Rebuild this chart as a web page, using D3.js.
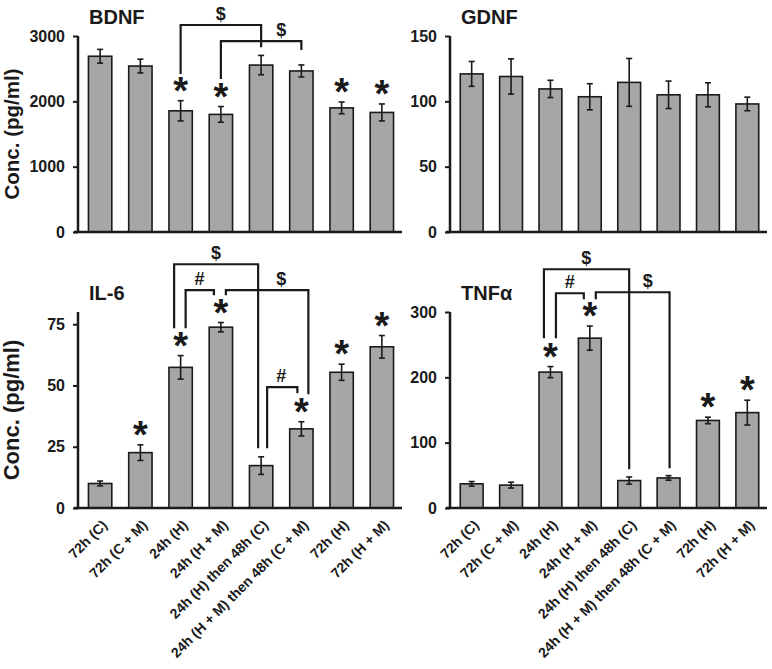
<!DOCTYPE html>
<html lang="en">
<head>
<meta charset="utf-8">
<title>Conc. (pg/ml)</title>
<style>
  body { margin: 0; background: #fff; }
  svg text { font-family: "Liberation Sans", Arial, sans-serif; font-weight: bold; fill: #1a1a1a; }
</style>
</head>
<body>
<div id="chart"></div>
<script src="https://d3js.org/d3.v7.min.js"></script>
<script>
// group labels (same for every panel)
var groups = ["72h (C)", "72h (C + M)", "24h (H)", "24h (H + M)",
  "24h (H) then 48h (C)", "24h (H + M) then 48h (C + M)", "72h (H)", "72h (H + M)"];

// means, error bars and * markers
var bdnfMean = [2690, 2540, 1855, 1800, 2555, 2465, 1900, 1830];
var bdnfErr  = [105, 105, 155, 120, 148, 92, 90, 130];
var bdnfStar = [0, 0, 1, 1, 0, 0, 1, 1];

var gdnfMean = [121, 119, 109.5, 103.5, 114.5, 105, 105, 98];
var gdnfErr  = [9.5, 13.5, 6.6, 10, 18.3, 10.5, 9.2, 5.2];
var gdnfStar = [0, 0, 0, 0, 0, 0, 0, 0];

var il6Mean = [10, 22.6, 57.4, 73.8, 17.3, 32.3, 55.4, 65.8];
var il6Err  = [1, 3.2, 4.8, 1.9, 3.6, 2.9, 3.3, 4.6];
var il6Star = [0, 1, 1, 1, 0, 1, 1, 1];

var tnfMean = [37, 35, 208, 260, 42, 46, 134, 146];
var tnfErr  = [3.5, 4.5, 8.5, 18.5, 5.5, 3.5, 5, 19];
var tnfStar = [0, 0, 1, 1, 0, 0, 1, 1];

// significance brackets: bar indexes, heights in data units
var bdnfBrackets = [
  {from: 2, to: 4, top: 3168, lo: 2419, ro: 2826, label: "$", at: 3.0},
  {from: 3, to: 5, top: 2923, lo: 2343, ro: 2787, label: "$", at: 4.5}
];
var il6Brackets = [
  {from: 2, to: 4, dl: -6.5, dr: -3, top: 99.5, lo: 73.4, ro: 24.4, label: "$", at: 2.88},
  {from: 2, to: 3, dl: 5, dr: -7, top: 88.9, lo: 73.4, ro: 86.8, label: "#", at: 2.47},
  {from: 3, to: 5, dl: 5, dr: 7, top: 88.9, lo: 86.8, ro: 46.4, label: "$", at: 4.5},
  {from: 4, to: 5, dl: 6, dr: -4, top: 49.3, lo: 24.4, ro: 46.8, label: "#", at: 4.5}
];
var tnfBrackets = [
  {from: 2, to: 4, dl: -6.5, dr: 0, top: 365.4, lo: 259.8, ro: 59.2, label: "$", at: 2.91},
  {from: 2, to: 3, dl: 5.5, dr: -6, top: 328.7, lo: 259.8, ro: 319.5, label: "#", at: 2.49},
  {from: 3, to: 5, dl: 6, dr: 1, top: 330.2, lo: 319.5, ro: 60.8, label: "$", at: 4.47}
];

var panels = [
  {title: "BDNF", mean: bdnfMean, err: bdnfErr, star: bdnfStar, brackets: bdnfBrackets,
   max: 3000, ticks: [0, 1000, 2000, 3000], left: 80, right: 402, bottom: 232, top: 36,
   ylab: 20.5, xlabels: false},
  {title: "GDNF", mean: gdnfMean, err: gdnfErr, star: gdnfStar, brackets: [],
   max: 150, ticks: [0, 50, 100, 150], left: 452, right: 767, bottom: 232, top: 36,
   ylab: 0, xlabels: false},
  {title: "IL-6", mean: il6Mean, err: il6Err, star: il6Star, brackets: il6Brackets,
   max: 80, ticks: [0, 25, 50, 75], left: 80, right: 402, bottom: 508, top: 312,
   ylab: 22, xlabels: true},
  {title: "TNF\u03b1", mean: tnfMean, err: tnfErr, star: tnfStar, brackets: tnfBrackets,
   max: 300, ticks: [0, 100, 200, 300], left: 452, right: 767, bottom: 508, top: 312,
   ylab: 0, xlabels: true}
];

var svg = d3.select("#chart").append("svg")
  .attr("width", 772)
  .attr("height", 669);

svg.append("rect").attr("width", 772).attr("height", 669).attr("fill", "#fff");

var ink = "#1a1a1a";

panels.forEach(function(p) {
  var g = svg.append("g");

  var x = d3.scaleBand()
    .domain(groups)
    .range([p.left, p.right])
    .paddingInner(0.42)
    .paddingOuter(0.21);
  var y = d3.scaleLinear()
    .domain([0, p.max])
    .range([p.bottom, p.top]);

  var cx = function(i) { return x(groups[i]) + x.bandwidth() / 2; };

  // bars
  g.selectAll("rect.bar")
    .data(p.mean)
    .enter()
    .append("rect")
      .attr("class", "bar")
      .attr("x", function(d, i) { return x(groups[i]); })
      .attr("y", function(d) { return y(d); })
      .attr("width", x.bandwidth())
      .attr("height", function(d) { return y(0) - y(d); })
      .attr("fill", "#a6a6a6")
      .attr("stroke", ink)
      .attr("stroke-width", 1.6);

  // error bars
  var eb = g.selectAll("g.err")
    .data(p.mean)
    .enter()
    .append("g")
      .attr("class", "err")
      .attr("stroke", ink)
      .attr("stroke-width", 1.6);
  eb.append("line")
    .attr("x1", function(d, i) { return cx(i); })
    .attr("x2", function(d, i) { return cx(i); })
    .attr("y1", function(d, i) { return y(d - p.err[i]); })
    .attr("y2", function(d, i) { return y(d + p.err[i]); });
  [1, -1].forEach(function(s) {
    eb.append("line")
      .attr("x1", function(d, i) { return cx(i) - 3; })
      .attr("x2", function(d, i) { return cx(i) + 3; })
      .attr("y1", function(d, i) { return y(d + s * p.err[i]); })
      .attr("y2", function(d, i) { return y(d + s * p.err[i]); });
  });

  // asterisks
  var starIdx = d3.range(p.mean.length).filter(function(i) { return p.star[i]; });
  g.selectAll("text.star")
    .data(starIdx)
    .enter()
    .append("text")
      .attr("class", "star")
      .attr("text-anchor", "middle")
      .attr("font-size", 38)
      .attr("x", function(i) { return cx(i); })
      .attr("y", function(i) { return y(p.mean[i] + p.err[i]) + 3; })
      .text("*");

  // y axis
  var ya = g.append("g")
    .attr("transform", "translate(" + (p.left - 2) + ",0)")
    .call(d3.axisLeft(y).tickValues(p.ticks).tickFormat(d3.format("d"))
      .tickSize(5).tickSizeOuter(0).tickPadding(8));
  ya.select(".domain").attr("stroke", ink).attr("stroke-width", 2.5)
    .attr("d", "M0," + y(0) + "V" + y.range()[1]);
  ya.selectAll(".tick line").attr("stroke", ink).attr("stroke-width", 2);
  ya.selectAll(".tick text").attr("font-size", 16).attr("font-family", null).attr("fill", ink);

  // x axis line
  g.append("line")
    .attr("x1", p.left - 6).attr("x2", p.right)
    .attr("y1", y(0)).attr("y2", y(0))
    .attr("stroke", ink).attr("stroke-width", 2.5);

  if (p.xlabels) {
    g.selectAll("text.xl")
      .data(groups)
      .enter()
      .append("text")
        .attr("class", "xl")
        .attr("text-anchor", "end")
        .attr("font-size", 14)
        .attr("transform", function(d) {
          return "translate(" + (x(d) + x.bandwidth() / 2 + 8) + "," + (y(0) + 18) + ") rotate(-45)";
        })
        .text(function(d) { return d; });
  }

  // title
  g.append("text")
    .attr("x", p.left + 9)
    .attr("y", p.top - 12)
    .attr("font-size", 20)
    .text(p.title);

  if (p.ylab) {
    g.append("text")
      .attr("text-anchor", "middle")
      .attr("font-size", p.ylab)
      .attr("transform", "translate(19," + ((y.range()[0] + y.range()[1]) / 2) + ") rotate(-90)")
      .text("Conc. (pg/ml)");
  }

  // brackets
  p.brackets.forEach(function(b) {
    var xl = cx(b.from) + (b.dl || 0), xr = cx(b.to) + (b.dr || 0);
    g.append("path")
      .attr("d", "M" + xl + "," + y(b.lo) + "V" + y(b.top) + "H" + xr + "V" + y(b.ro))
      .attr("fill", "none")
      .attr("stroke", ink)
      .attr("stroke-width", 2.2);
    g.append("text")
      .attr("text-anchor", "middle")
      .attr("font-size", 18)
      .attr("x", cx(0) + b.at * x.step())
      .attr("y", y(b.top) - 5)
      .text(b.label);
  });
});
</script>
</body>
</html>
